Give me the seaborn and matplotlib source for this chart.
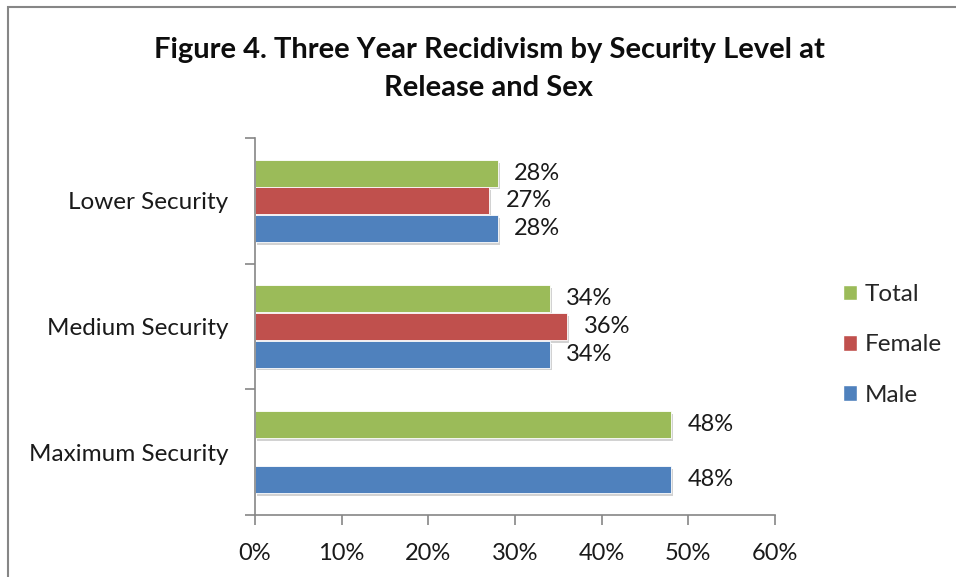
import matplotlib
matplotlib.use("Agg")
import matplotlib.pyplot as plt
import matplotlib.patheffects as pe
from matplotlib.patches import Rectangle, Patch
import numpy as np
import pandas as pd
import seaborn as sns

# Three-year recidivism rates (%) by security level at release
levels = ["Lower Security", "Medium Security", "Maximum Security"]
series = ["Total", "Female", "Male"]
total = [28, 34, 48]
female = [27, 36, np.nan]
male = [28, 34, 48]
x_ticks = [0, 10, 20, 30, 40, 50, 60]
x_tick_labels = ["0%", "10%", "20%", "30%", "40%", "50%", "60%"]
colors = {"Total": "#9BBB59", "Female": "#C0504D", "Male": "#4F81BD"}

df = pd.DataFrame({
    "level": levels * 3,
    "series": ["Total"] * 3 + ["Female"] * 3 + ["Male"] * 3,
    "value": total + female + male,
})

sns.set_theme(style="white")
plt.rcParams["font.family"] = ["Lato", "DejaVu Sans"]

fig = plt.figure(figsize=(9.56, 5.77), dpi=100)
ax = fig.add_axes([255 / 956, 1 - 515 / 577, 520 / 956, (515 - 138) / 577])

sns.barplot(data=df.dropna(), y="level", x="value", hue="series",
            order=levels, hue_order=series, palette=colors, saturation=1,
            orient="h", width=0.66, gap=0.03, errorbar=None,
            edgecolor="white", linewidth=0.6, legend=False, ax=ax)

shadow = [pe.SimplePatchShadow(offset=(1.5, -2), shadow_rgbFace="#7f7f7f", alpha=0.35),
          pe.Normal()]
for container in ax.containers:
    for bar in container:
        bar.set_path_effects(shadow)
    ax.bar_label(container, labels=[f"{v:.0f}%" for v in container.datavalues],
                 padding=12, fontsize=17, color="#1a1a1a")

ax.set_xlim(0, 60)
ax.set_ylim(2.5, -0.5)
ax.set_xticks(x_ticks)
ax.set_xticklabels(x_tick_labels, fontsize=17, color="#1a1a1a")
ax.set_yticks([-0.5, 0.5, 1.5, 2.5], minor=False)
ax.set_yticklabels([])
ax.set_yticks([0, 1, 2], minor=True)
ax.set_yticklabels(levels, minor=True, fontsize=17.5, color="#1a1a1a")
ax.tick_params(axis="y", which="minor", length=0, pad=19)
ax.tick_params(axis="y", which="major", length=7, width=1.2, color="#868686", left=True)
ax.tick_params(axis="x", length=7, width=1.2, color="#868686", bottom=True, pad=13)
ax.set_xlabel("")
ax.set_ylabel("")
for side in ["top", "right"]:
    ax.spines[side].set_visible(False)
for side in ["left", "bottom"]:
    ax.spines[side].set_color("#868686")
    ax.spines[side].set_linewidth(1.2)

handles = [Patch(facecolor=colors[s], edgecolor="white", label=s) for s in series]
fig.legend(handles=handles, loc="center left", bbox_to_anchor=(821 / 956, 1 - 345 / 577),
           frameon=False, fontsize=17.5, handlelength=0.6, handleheight=0.6,
           handletextpad=0.3, labelspacing=1.2)

fig.text(489 / 956, 1 - 69 / 577,
         "Figure 4. Three Year Recidivism by Security Level at\nRelease and Sex",
         ha="center", va="center", fontsize=21, fontweight="bold",
         color="#0d0d0d", linespacing=1.6)

fig.patches.append(Rectangle((8 / 956, -0.1), 1.2, 1 - 6.5 / 577 + 0.1,
                             transform=fig.transFigure, fill=False,
                             edgecolor="#868686", linewidth=1.5))

fig.savefig("out.png", dpi=100, facecolor="white")
